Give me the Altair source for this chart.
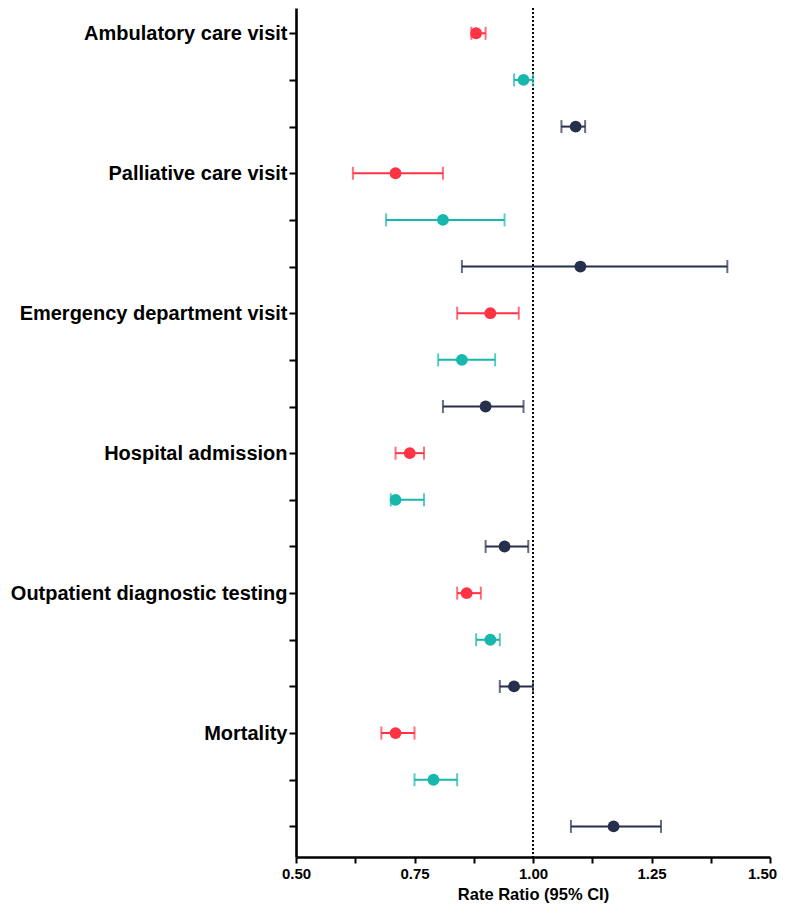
import altair as alt
import pandas as pd

categories = ["Ambulatory care visit", "Palliative care visit", "Emergency department visit",
              "Hospital admission", "Outpatient diagnostic testing", "Mortality"]
groups = ["Group 1", "Group 2", "Group 3"]
group_colors = ["#FF3344", "#16B7AD", "#262F4B"]

rate_ratio = [0.88, 0.98, 1.09, 0.71, 0.81, 1.10, 0.91, 0.85, 0.90,
              0.74, 0.71, 0.94, 0.86, 0.91, 0.96, 0.71, 0.79, 1.17]
ci_low = [0.87, 0.96, 1.06, 0.62, 0.69, 0.85, 0.84, 0.80, 0.81,
          0.71, 0.70, 0.90, 0.84, 0.88, 0.93, 0.68, 0.75, 1.08]
ci_high = [0.90, 1.00, 1.11, 0.81, 0.94, 1.41, 0.97, 0.92, 0.98,
           0.77, 0.77, 0.99, 0.89, 0.93, 1.00, 0.75, 0.84, 1.27]
x_ticks = [0.5, 0.625, 0.75, 0.875, 1.0, 1.125, 1.25, 1.375, 1.5]

rows = []
for ci, cat in enumerate(categories):
    for gi, g in enumerate(groups):
        k = ci * 3 + gi
        rows.append({"row": k + 1, "category": cat, "group": g,
                     "rr": rate_ratio[k], "lo": ci_low[k], "hi": ci_high[k]})
df = pd.DataFrame(rows)

label_expr = " : ".join(
    f"datum.value == {i * 3 + 1} ? '{c}'" for i, c in enumerate(categories)
) + " : ''"

FONT = "Liberation Sans"

yscale = alt.Scale(domain=[0.458, 18.656], reverse=True, nice=False, zero=False)
xscale = alt.Scale(domain=[0.5, 1.5], nice=False, zero=False)
color = alt.Color("group:N", scale=alt.Scale(domain=groups, range=group_colors), legend=None)

y_enc = alt.Y("row:Q", scale=yscale,
              axis=alt.Axis(values=list(range(1, 19)), labelExpr=label_expr, title=None,
                            labelFont=FONT, labelFontSize=20, labelFontWeight="bold",
                            labelColor="black", labelPadding=2, tickSize=7, tickWidth=2,
                            tickColor="black", domainColor="black", domainWidth=2.6,
                            grid=False, labelLimit=400))
x_enc = alt.X("rr:Q", scale=xscale,
              axis=alt.Axis(values=x_ticks,
                            labelExpr="(datum.value*4) % 1 == 0 ? format(datum.value, '.2f') : ''",
                            title="Rate Ratio (95% CI)", titleFont=FONT, titleFontSize=16.5,
                            titleFontWeight="bold", titleColor="black", titlePadding=5,
                            labelFont=FONT, labelFontSize=15, labelFontWeight="bold",
                            labelColor="black", labelPadding=3, tickSize=6, tickWidth=2,
                            labelOffset=alt.ExprRef("datum.value >= 1.5 ? -8 : 0"),
                            tickColor="black", domainColor="black", domainWidth=2.6,
                            grid=False, labelFlush=False))

base = alt.Chart(df)

ref = alt.Chart(pd.DataFrame({"ref": [1.0]})).mark_rule(
    color="black", strokeWidth=2, strokeDash=[2, 2]
).encode(x=alt.X("ref:Q", scale=xscale))

bars = base.mark_rule(strokeWidth=2).encode(
    x=alt.X("lo:Q", scale=xscale), x2="hi:Q", y=y_enc, color=color)
cap_lo = base.mark_tick(orient="vertical", size=13, thickness=2).encode(
    x=alt.X("lo:Q", scale=xscale), y=alt.Y("row:Q", scale=yscale), color=color)
cap_hi = base.mark_tick(orient="vertical", size=13, thickness=2).encode(
    x=alt.X("hi:Q", scale=xscale), y=alt.Y("row:Q", scale=yscale), color=color)
points = base.mark_circle(size=140, opacity=1).encode(
    x=x_enc, y=alt.Y("row:Q", scale=yscale), color=color)

chart = alt.layer(ref, bars, cap_lo, cap_hi, points).properties(
    width=474, height=849,
    autosize=alt.AutoSizeParams(type="none"),
    padding={"left": 288, "top": 0, "right": 9, "bottom": 47},
).configure_view(stroke=None).configure_axis(grid=False)

chart.save("out.html", embed_options={"renderer": "svg", "actions": False})
